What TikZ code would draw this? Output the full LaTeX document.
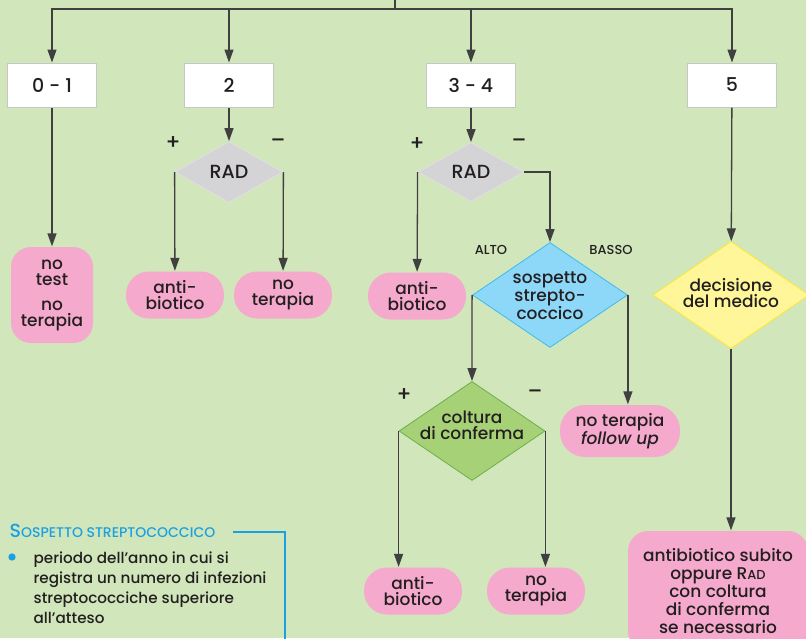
\documentclass[tikz,border=0pt]{standalone}
\usepackage{fontspec}
\setmainfont{Poppins Medium}
\usepackage{tikz}
\usetikzlibrary{
        arrows.meta,
        shapes,
        shapes.geometric
    }
\definecolor{bg}{HTML}{D1E6BB}
\definecolor{ink}{HTML}{404040}
\definecolor{textc}{HTML}{231F20}
\definecolor{pinkbox}{HTML}{F5AACD}
\definecolor{radgray}{HTML}{D4D4D6}
\definecolor{skyblue}{HTML}{8DD8F8}
\definecolor{skyline}{HTML}{3DBBEF}
\definecolor{lemon}{HTML}{FFF699}
\definecolor{lemonline}{HTML}{FFE930}
\definecolor{leaf}{HTML}{A6D177}
\definecolor{leafline}{HTML}{6BB04A}
\definecolor{legblue}{HTML}{1BA1E2}
\tikzset{>={Triangle[length=13pt,width=9pt]}}
\tikzset{
    every node/.style={text=textc},
    score/.style={rectangle,draw=black!22,fill=white,line width=1pt,minimum width=89pt,minimum height=44pt,font=\fontsize{19}{19}\selectfont},
    outcome/.style={rectangle,rounded corners=23pt,fill=pinkbox,align=center,minimum width=98pt,minimum height=47pt,inner sep=0pt,font=\fontsize{17}{16}\selectfont},
    test/.style={diamond,inner sep=0pt,line width=0.8pt,font=\fontsize{19}{16}\selectfont},
    tag/.style={align=center,font=\fontsize{17}{16}\selectfont},
    sign/.style={font=\fontsize{21}{21}\selectfont},
    level/.style={font=\fontsize{13}{13}\selectfont}
}

\begin{document}
\begin{tikzpicture}[x=1pt,y=-1pt,line width=1.3pt,color=ink]
    \useasboundingbox (0,0) rectangle (806,638);
    \clip (0,0) rectangle (806,638);
    \fill[bg] (0,0) rectangle (806,638);

    \coordinate (top) at (395,0);
    \coordinate (hub) at (395,9);
    \node[score] (s01) at (52,85) {0 - 1};
    \node[score] (s2)  at (229,85) {2};
    \node[score] (s34) at (471,85) {3 - 4};
    \node[score] (s5)  at (732,85) {5};

    \node[test,fill=radgray,draw=black!12,minimum width=108pt,minimum height=61pt] (rad2) at (229,172) {RAD};
    \node[sign] (p2) at (173,143) {+};
    \node[sign] (m2) at (278,143) {–};
    \node[test,fill=radgray,draw=black!12,minimum width=106pt,minimum height=59pt] (rad3) at (471,172) {RAD};
    \node[sign] (p3) at (417,144) {+};
    \node[sign] (m3) at (519,143) {–};

    \node[test,fill=skyblue,draw=skyline,minimum width=155pt,minimum height=105pt] (sosp) at (550,295) {};
    \node[tag] (sospt) at (550,296) {sospetto\\strepto-\\coccico};
    \node[level] (alto)  at (491,250) {ALTO};
    \node[level] (basso) at (611,250) {BASSO};

    \node[test,fill=leaf,draw=leafline,minimum width=146pt,minimum height=99pt] (cult) at (472,431) {};
    \node[tag] (cultt) at (472,425) {coltura\\di conferma};
    \node[sign] (p4) at (404,395) {+};
    \node[sign] (m4) at (535,394) {–};

    \node[test,fill=lemon,draw=lemonline,minimum width=156pt,minimum height=107pt] (dec) at (731,295) {};
    \node[tag] (dect) at (731,293) {decisione\\del medico};

    \node[outcome,minimum width=82pt,minimum height=96pt,rounded corners=20pt] (o1) at (52,295) {no\\test\\[9pt]no\\terapia};
    \node[outcome] (o2a) at (175,295) {anti-\\biotico};
    \node[outcome] (o2b) at (283,295) {no\\terapia};
    \node[outcome] (o3a) at (417,296) {anti-\\biotico};
    \node[outcome,minimum width=120pt,minimum height=52pt,rounded corners=25pt] (o3b) at (620,431) {no terapia\\\textit{follow up}};
    \node[outcome] (o4a) at (413,591) {anti-\\biotico};
    \node[outcome] (o4b) at (536,591) {no\\terapia};
    \node[outcome,minimum width=180pt,minimum height=120pt,rounded corners=20pt,font=\fontsize{17}{18}\selectfont] (o5) at (718,591)
        {antibiotico subito\\oppure R{\fontsize{13}{13}\selectfont AD}\\con coltura\\di conferma\\se necessario};

    \draw (top) -- (hub);
    \draw[->] (hub) -| (s01);
    \draw[->] (hub) -| (s2);
    \draw[->] (hub) -| (s34);
    \draw[->] (hub) -| (s5);
    \draw[->] (s01) -- (o1);
    \draw[->] (s2) -- (rad2);
    \draw[->] (rad2.west) -- (o2a);
    \draw[->] (rad2.east) -- (o2b);
    \draw[->] (s34) -- (rad3);
    \draw[->] (rad3.west) -- (o3a);
    \draw[->] (rad3.east) -| (sosp);
    \draw[->] (sosp.west) -- (cult.north);
    \draw[->] (sosp.east) -- (sosp.east |- o3b.north);
    \draw[->] (cult.west) -- (cult.west |- o4a.north);
    \draw[->] (cult.east) -- (cult.east |- o4b.north);
    \draw[->] (s5) -- (dec);
    \draw[->] (dec.south) -- (dec.south |- o5.north);

    \node[text=legblue,anchor=base west,inner sep=0pt] (legt) at (9,537)
        {{\fontsize{19}{19}\selectfont S}{\fontsize{14}{14}\selectfont OSPETTO STREPTOCOCCICO}};
    \coordinate (legr) at (233,532);
    \coordinate (legc) at (285,532);
    \coordinate (legb) at (285,640);
    \draw[legblue,line width=1.2pt] (legr) -- (legc) -- (legb);
    \node[circle,fill=legblue,inner sep=2.6pt] (dot) at (12,557) {};
    \node[anchor=north west,align=left,inner sep=0pt,font=\fontsize{15.2}{20}\selectfont] (legx) at (33,551)
        {periodo dell'anno in cui si\\registra un numero di infezioni\\streptococciche superiore\\all'atteso};
\end{tikzpicture}
\end{document}
